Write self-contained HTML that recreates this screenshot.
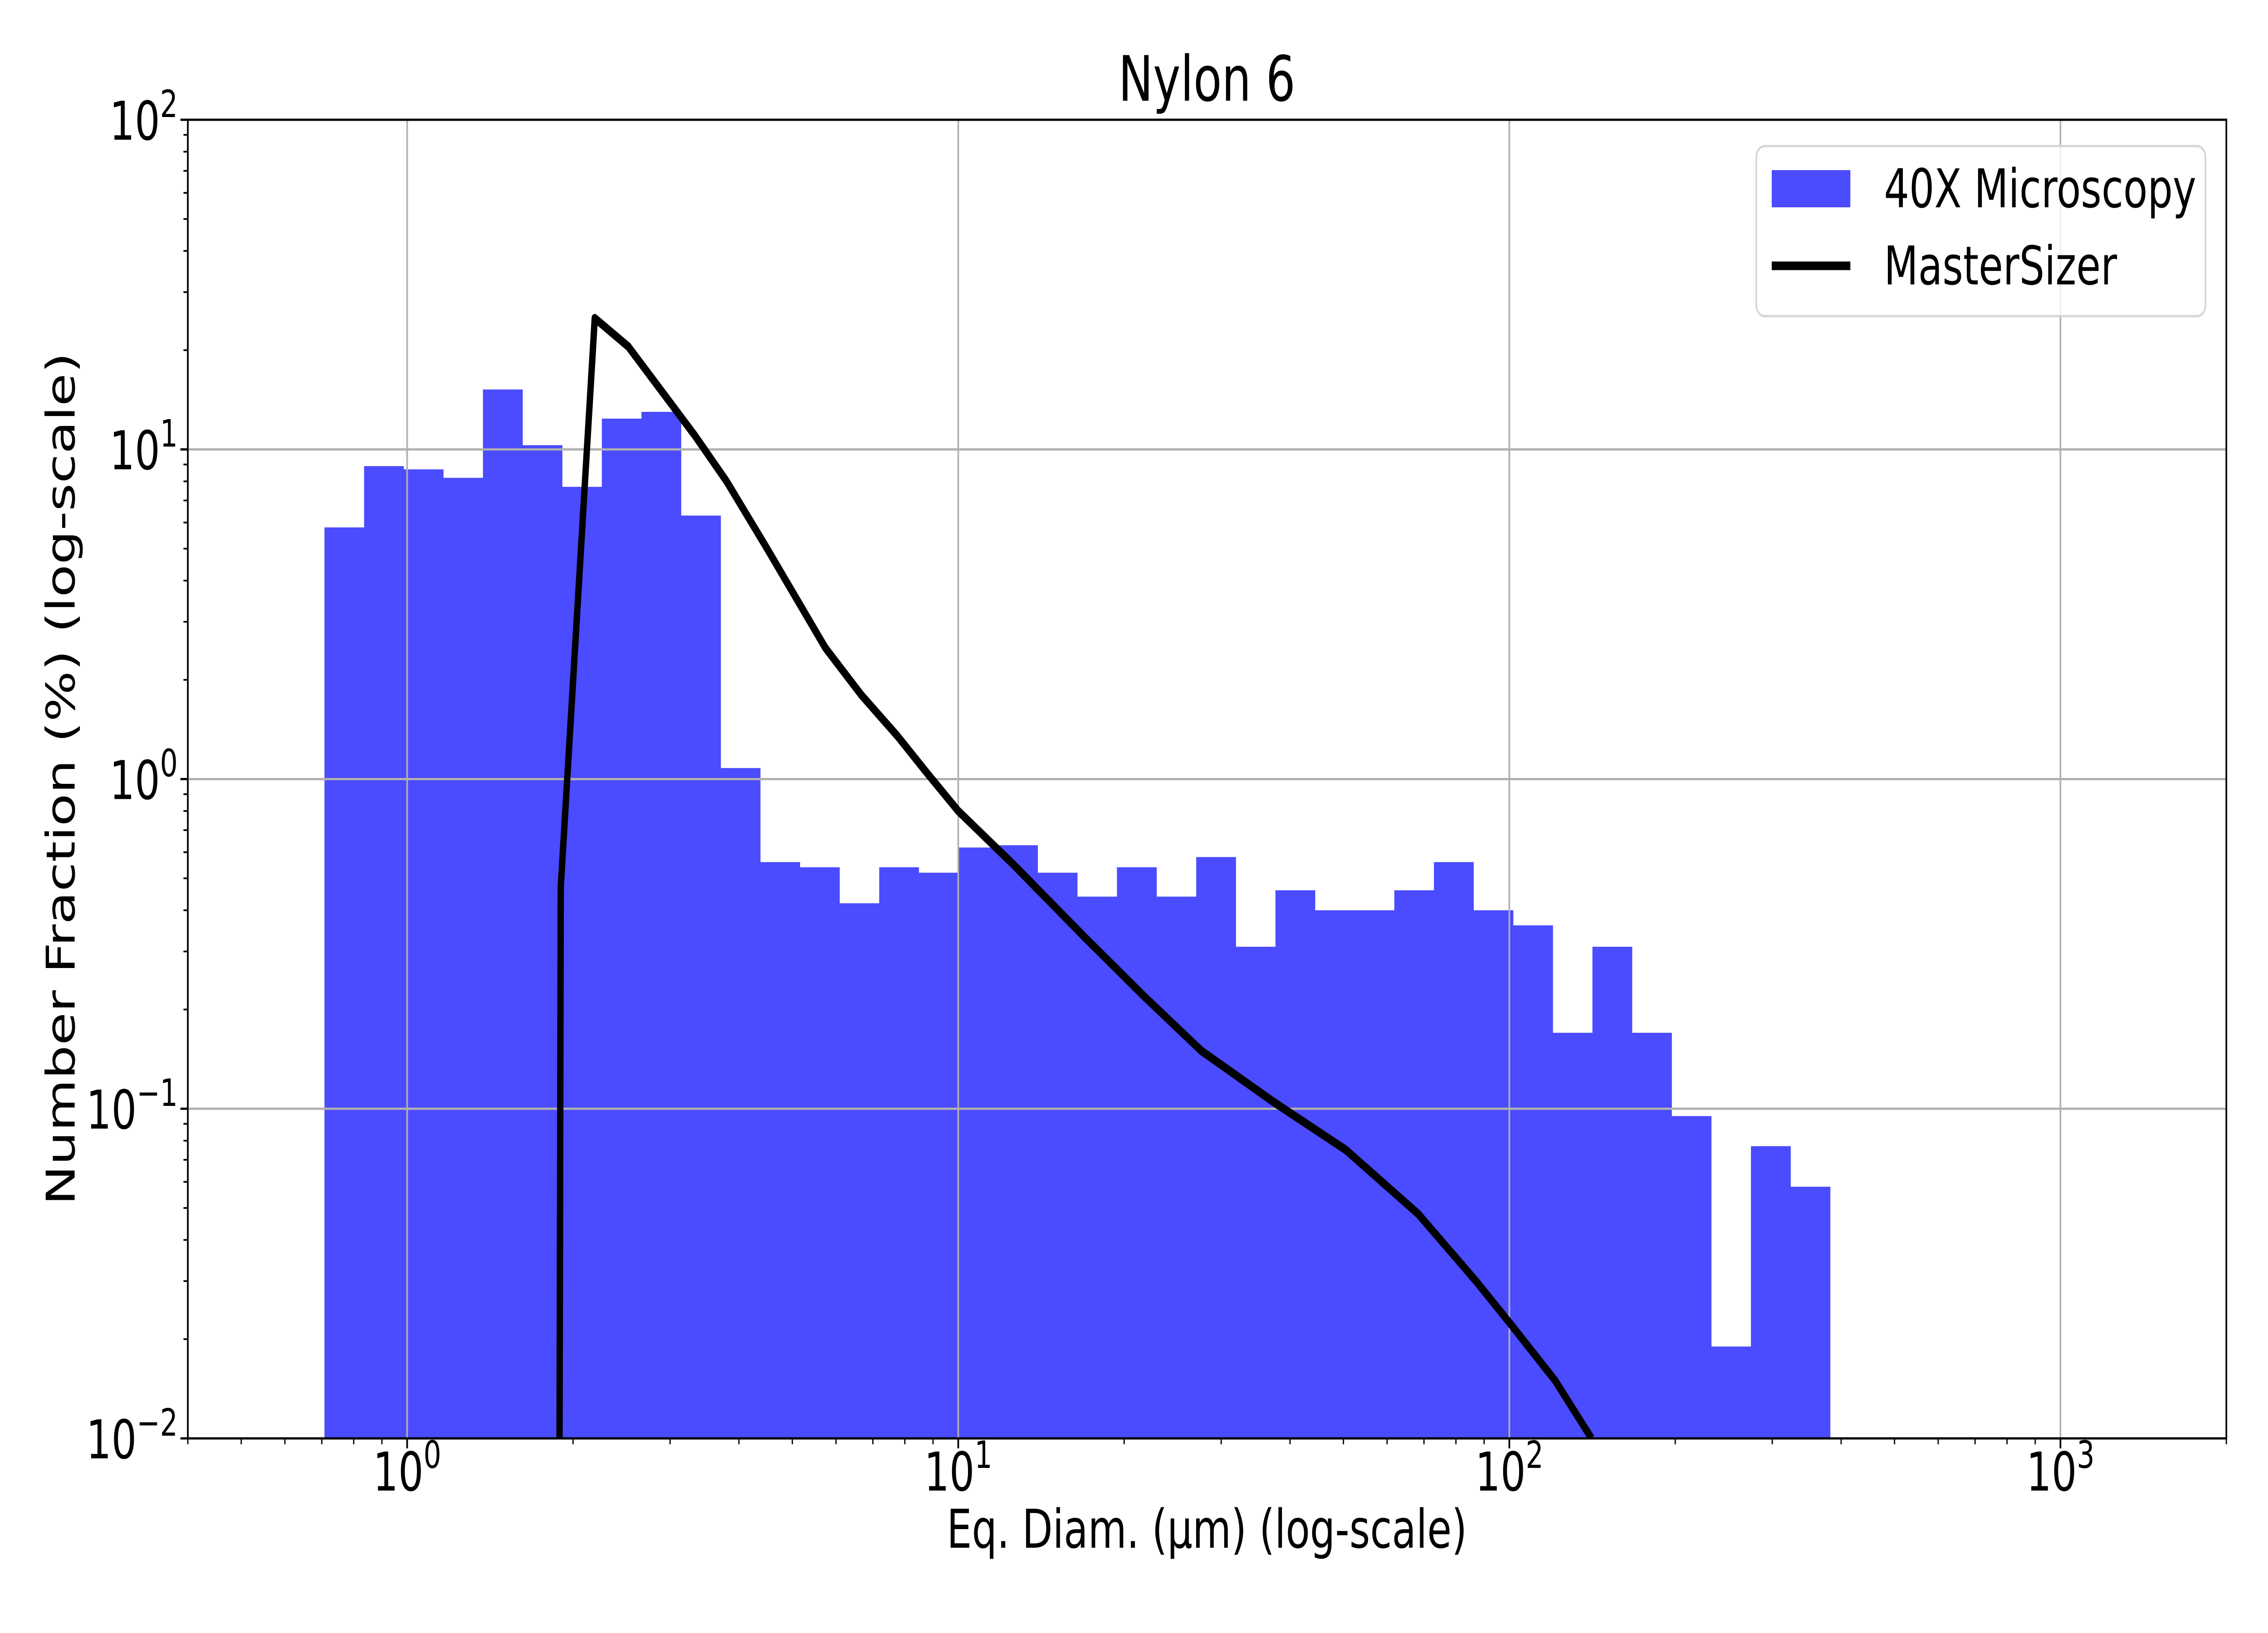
<!DOCTYPE html>
<html><head><meta charset="utf-8"><style>
html,body{margin:0;padding:0;background:#fff;width:100%;height:100%;overflow:hidden}
svg{display:block;width:100vw;height:100vh}
text{font-family:"DejaVu Sans","Liberation Sans",sans-serif;fill:#000}
</style></head><body>
<svg id="chart" viewBox="0 0 6750 3600" preserveAspectRatio="none" xmlns="http://www.w3.org/2000/svg">
<rect x="0" y="0" width="6750" height="3600" fill="#fff"/>
<text x="3592" y="222" font-size="138" text-anchor="middle">Nylon 6</text>
<g id="bars"></g>
<g id="grid"></g>
<g id="line"></g>
<rect x="559" y="264" width="6067" height="2907" fill="none" stroke="#000" stroke-width="5"/>
<g id="ticks"></g>
<text x="3592" y="3412" font-size="118" text-anchor="middle">Eq. Diam. (µm) (log-scale)</text>
<text x="0" y="0" font-size="118" text-anchor="middle" transform="translate(222,1717) rotate(-90)">Number Fraction (%) (log-scale)</text>
<g>
<rect x="5227" y="322" width="1337" height="375" rx="25" fill="#fff" fill-opacity="0.8" stroke="#d6d6d6" stroke-width="5"/>
<rect x="5273" y="375" width="234" height="82" fill="#4b4bff"/>
<text x="5607" y="457" font-size="118">40X Microscopy</text>
<line x1="5273" y1="586" x2="5507" y2="586" stroke="#000" stroke-width="19"/>
<text x="5607" y="627" font-size="118">MasterSizer</text>
</g>
</svg>
<script>
const binStartLog = -0.150;
const binWidthLog = 0.0719;
const barValues = [5.8,8.9,8.7,8.2,15.2,10.3,7.7,12.4,13,6.3,1.08,0.56,0.54,0.42,0.54,0.52,0.62,0.63,0.52,0.44,0.54,0.44,0.58,0.31,0.46,0.40,0.40,0.46,0.56,0.40,0.36,0.17,0.31,0.17,0.095,0.019,0.077,0.058];
const lineX = [1.89,1.90,2.19,2.52,3.33,3.80,4.50,5.74,6.67,7.76,8.75,10,12.6,17.0,21.7,27.6,37.3,50.5,68.3,87.0,101,121,141];
const lineY = [0.008,0.47,25,20.5,11,8,5,2.5,1.8,1.35,1.05,0.8,0.55,0.33,0.22,0.15,0.105,0.075,0.048,0.03,0.022,0.015,0.01];
const xTickLabels = ["0","1","2","3"];
const yTickLabels = ["-2","-1","0","1","2"];

const NS="http://www.w3.org/2000/svg";
const L=559,R=6626,T=264,B=3171;
const xmin=Math.log10(0.4),xmax=Math.log10(2000),ymin=-2,ymax=2;
function xs(v){return L+(Math.log10(v)-xmin)/(xmax-xmin)*(R-L);}
function ys(v){return B-(Math.log10(v)-ymin)/(ymax-ymin)*(B-T);}
function mk(tag,attrs,parent){const e=document.createElementNS(NS,tag);for(const k in attrs)e.setAttribute(k,attrs[k]);parent.appendChild(e);return e;}

const gb=document.getElementById('bars');
barValues.forEach((v,i)=>{
  const x0=xs(Math.pow(10,binStartLog+i*binWidthLog)),x1=xs(Math.pow(10,binStartLog+(i+1)*binWidthLog));
  const y=ys(v);
  const r=mk('rect',{x:x0,y:y,width:x1-x0+0.5,height:B-y,fill:'#4b4bff'},gb);
  
  
});

const gg=document.getElementById('grid');
const gt=document.getElementById('ticks');
xTickLabels.forEach(s=>{
  const x=xs(Math.pow(10,+s));
  const gl=mk('line',{x1:x,y1:T,x2:x,y2:B,stroke:'#b0b0b0','stroke-width':5},gg);
  
  
  const tl=mk('line',{x1:x,y1:B,x2:x,y2:B+22,stroke:'#000','stroke-width':5},gt);
  
  
  const t=mk('text',{x:x,y:B+115,'font-size':118,'text-anchor':'middle'},gt);
  
  
  t.innerHTML='10<tspan dy="-50" font-size="83">'+s+'</tspan>';
});
for(let d=-1;d<=3;d++){for(let m=2;m<=9;m++){const v=m*Math.pow(10,d);if(Math.log10(v)<xmin||Math.log10(v)>xmax)continue;const x=xs(v);
  const tl=mk('line',{x1:x,y1:B,x2:x,y2:B+13,stroke:'#000','stroke-width':3.75},gt);
  
  }}
yTickLabels.forEach(s=>{
  const y=ys(Math.pow(10,+s));
  const gl=mk('line',{x1:L,y1:y,x2:R,y2:y,stroke:'#b0b0b0','stroke-width':5},gg);
  
  
  const tl=mk('line',{x1:L-22,y1:y,x2:L,y2:y,stroke:'#000','stroke-width':5},gt);
  
  
  const t=mk('text',{x:L-30,y:y+44,'font-size':118,'text-anchor':'end'},gt);
  
  
  t.innerHTML='10<tspan dy="-50" font-size="83">'+s.replace('-','\u2212')+'</tspan>';
});
for(let d=-2;d<2;d++){for(let m=2;m<=9;m++){const y=ys(m*Math.pow(10,d));
  const tl=mk('line',{x1:L-13,y1:y,x2:L,y2:y,stroke:'#000','stroke-width':3.75},gt);
  
  }}

const gl=document.getElementById('line');
const cp=mk('clipPath',{id:'clip'},gl);
mk('rect',{x:L,y:T,width:R-L,height:B-T},cp);
const pts=lineX.map((x,i)=>xs(x).toFixed(1)+','+ys(lineY[i]).toFixed(1)).join(' ');
const pl=mk('polyline',{points:pts,fill:'none',stroke:'#000','stroke-width':19,'stroke-linejoin':'round','clip-path':'url(#clip)'},gl);


</script>
</body></html>
